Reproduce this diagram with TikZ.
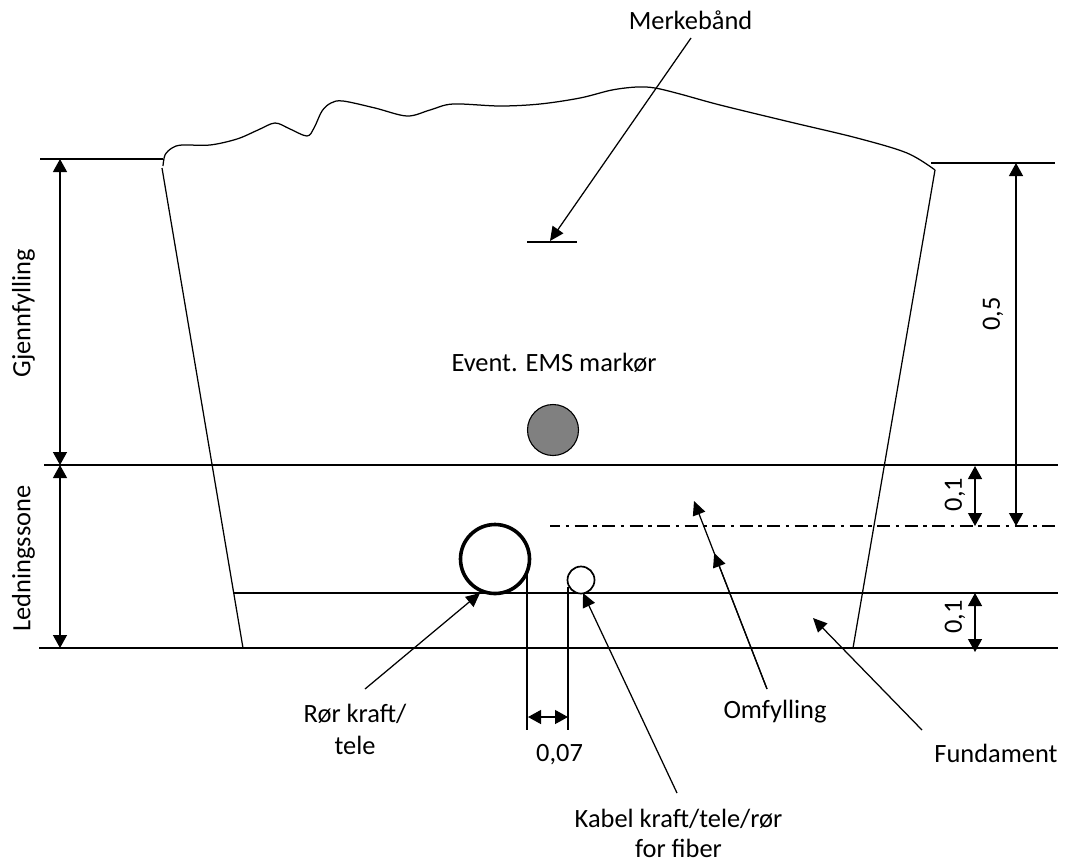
\documentclass[tikz,border=0pt]{standalone}
\usepackage{fontspec}
\setmainfont{Carlito}
\usetikzlibrary{arrows.meta}
\tikzset{
  x=1pt,y=-1pt,
  line/.style={line width=1.25pt,black},
  dim/.style={line width=1.25pt,black,{Triangle[length=13pt,width=14pt]}-{Triangle[length=13pt,width=14pt]}},
  lead/.style={line width=1.25pt,black,-{Triangle[length=14pt,width=13pt]}},
  lbl/.style={font=\fontsize{26.4pt}{30pt}\selectfont,align=center,inner sep=0pt,text=black},
}
\begin{document}
\begin{tikzpicture}
\useasboundingbox (0,0) rectangle (1075,863);
\coordinate (wlt) at (162,168);
\coordinate (wlb) at (243,648);
\coordinate (wrt) at (935,170);
\coordinate (wrb) at (853,648);
\coordinate (hl1) at (40,159);
\coordinate (hl2) at (163,159);
\coordinate (hr1) at (931,163);
\coordinate (hr2) at (1055,163);
\coordinate (m1) at (44,465);
\coordinate (m2) at (1058,465);
\coordinate (b1) at (39,648);
\coordinate (b2) at (1058,648);
\coordinate (f1) at (233,593);
\coordinate (f2) at (1058,593);
\coordinate (d1) at (550,526);
\coordinate (d2) at (1058,526);
\coordinate (tick1) at (527,242);
\coordinate (tick2) at (577,242);
\draw[line] (wlt) -- (wlb);
\draw[line] (wrt) -- (wrb);
\draw[line] (hl1) -- (hl2);
\draw[line] (hr1) -- (hr2);
\draw[line] (m1) -- (m2);
\draw[line] (b1) -- (b2);
\draw[line] (f1) -- (f2);
\draw[line,dash pattern=on 13pt off 5.5pt on 3.5pt off 5.5pt,dash phase=3pt] (d1) -- (d2);
\draw[line] (tick1) -- (tick2);
\draw[line,line join=round] plot[smooth,tension=0.55] coordinates {(163,166) (165,155) (172,148) (182,145) (210,145) (237,139) (258,130) (275,123) (290,129) (307,136) (314,128) (322,111) (331,103) (343,101) (375,108) (407,116) (430,110) (453,104) (500,106) (540,104) (580,98) (612,90) (637,87) (655,88) (680,94) (720,105) (790,122) (857,138) (907,153) (935,170)};
\node[draw=black,fill=black!50,line width=1.1pt,circle,minimum size=51pt,inner sep=0pt] (ems) at (553,430) {};
\node[draw=black,fill=white,line width=3.6pt,circle,minimum size=69pt,inner sep=0pt] (ror) at (495,559) {};
\node[draw=black,fill=white,line width=1.7pt,circle,minimum size=27pt,inner sep=0pt] (kab) at (581,580) {};
\coordinate (e1t) at (527,572);
\coordinate (e1b) at (527,730);
\coordinate (e2t) at (568,587);
\coordinate (e2b) at (568,730);
\draw[line] (e1t) -- (e1b);
\draw[line] (e2t) -- (e2b);
\coordinate (a1) at (528,717);
\coordinate (a2) at (568,717);
\draw[dim] (a1) -- (a2);
\coordinate (g1) at (60,159);
\coordinate (g2) at (60,465);
\coordinate (g3) at (60,648);
\draw[dim] (g1) -- (g2);
\draw[dim] (g2) -- (g3);
\coordinate (r1) at (1016,163);
\coordinate (r2) at (1016,526);
\draw[dim] (r1) -- (r2);
\coordinate (s1) at (975,466);
\coordinate (s2) at (975,526);
\draw[dim] (s1) -- (s2);
\coordinate (u1) at (975,593);
\coordinate (u2) at (975,652);
\draw[dim] (u1) -- (u2);
\node[lbl] (merke) at (690.5,20) {Merkebånd};
\node[lbl] (event) at (554,363) {Event. EMS markør};
\node[lbl,rotate=90] (gjenn) at (23.5,313) {Gjennfylling};
\node[lbl,rotate=90] (ledn) at (23.5,558.5) {Ledningssone};
\node[lbl,rotate=90] (v05) at (993,314) {0,5};
\node[lbl,rotate=90] (v01a) at (955,494.5) {0,1};
\node[lbl,rotate=90] (v01b) at (955,617) {0,1};
\node[lbl] (rorl) at (355,729) {Rør kraft/\\[2pt]tele};
\node[lbl] (v007) at (559.5,755) {0,07};
\node[lbl] (omf) at (775,712) {Omfylling};
\node[lbl] (fund) at (996,753) {Fundament};
\node[lbl] (kabl) at (678.5,833) {Kabel kraft/tele/rør\\for fiber};
\coordinate (lm0) at (691,38);
\coordinate (lm1) at (550,241);
\draw[lead] (lm0) -- (lm1);
\coordinate (lr0) at (365,689);
\coordinate (lr1) at (480,593);
\draw[lead] (lr0) -- (lr1);
\coordinate (lk0) at (677,793);
\coordinate (lk1) at (583,593);
\draw[lead] (lk0) -- (lk1);
\coordinate (lo0) at (767,689);
\coordinate (lo1) at (694,501);
\coordinate (lo2) at (714.19,553);
\draw[lead] (lo0) -- (lo1);
\draw[lead] (lo0) -- (lo2);
\coordinate (lf0) at (922,730);
\coordinate (lf1) at (813,618);
\draw[lead] (lf0) -- (lf1);
\end{tikzpicture}
\end{document}
